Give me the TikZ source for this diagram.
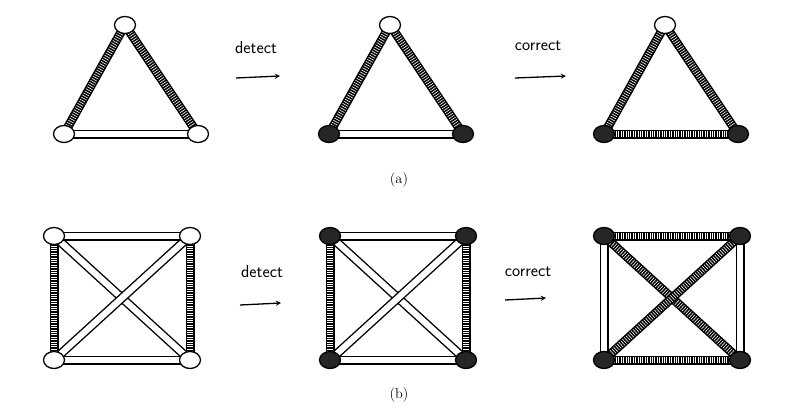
\documentclass[tikz,border=0pt]{standalone}
\usetikzlibrary{shapes.geometric}
\newcommand\plainedge[2]{\draw[line width=9pt] (#1)--(#2); \draw[line width=6.2pt,white] (#1)--(#2);}
\newcommand\hatchedge[2]{\draw[line width=9pt] (#1)--(#2); \draw[line width=6.2pt,white,dash pattern=on 0.6pt off 1.8pt] (#1)--(#2);}
\tikzset{wv/.style={ellipse,draw,line width=1.3pt,fill=white,minimum width=21pt,minimum height=17pt,inner sep=0pt},
bv/.style={wv,fill=black!85},
lbl/.style={font=\sffamily\LARGE},
arr/.style={-stealth,line width=1.3pt}}
\begin{document}
\begin{tikzpicture}[x=1pt,y=-1pt]
\useasboundingbox (0,0) rectangle (800,410);
\foreach \n/\x in {a/0,b/265,c/540}{
 \coordinate (\n t) at (125+\x,25);
 \coordinate (\n l) at (64+\x,134);
 \coordinate (\n r) at (198+\x,134);}
\hatchedge{at}{al}\hatchedge{at}{ar}\plainedge{al}{ar}
\hatchedge{bt}{bl}\hatchedge{bt}{br}\plainedge{bl}{br}
\hatchedge{ct}{cl}\hatchedge{ct}{cr}\hatchedge{cl}{cr}
\node[wv] (v1) at (at){};\node[wv] (v2) at (al){};\node[wv] (v3) at (ar){};
\node[wv] (v4) at (bt){};\node[bv] (v5) at (bl){};\node[bv] (v6) at (br){};
\node[wv] (v7) at (ct){};\node[bv] (v8) at (cl){};\node[bv] (v9) at (cr){};
\node[lbl] (d1) at (256,48){detect};
\coordinate (d1a) at (236,78);\coordinate (d1b) at (280,76);
\draw[arr] (d1a)--(d1b);
\node[lbl] (c1) at (538,46){correct};
\coordinate (c1a) at (515,78);\coordinate (c1b) at (566,76);
\draw[arr] (c1a)--(c1b);
\node[font=\Large] (la) at (399,180){(a)};
\foreach \n/\x in {p/0,q/276,s/550}{
 \coordinate (\n1) at (54+\x,236);
 \coordinate (\n2) at (190+\x,236);
 \coordinate (\n3) at (54+\x,360);
 \coordinate (\n4) at (190+\x,360);}
\foreach \n in {p,q}{
 \plainedge{\n1}{\n4}\plainedge{\n2}{\n3}\plainedge{\n1}{\n2}\plainedge{\n3}{\n4}
 \hatchedge{\n1}{\n3}\hatchedge{\n2}{\n4}}
\plainedge{s1}{s3}\plainedge{s2}{s4}
\hatchedge{s1}{s4}\hatchedge{s2}{s3}\hatchedge{s1}{s2}\hatchedge{s3}{s4}
\node[wv] (u1) at (p1){};\node[wv] (u2) at (p2){};\node[wv] (u3) at (p3){};\node[wv] (u4) at (p4){};
\node[bv] (u5) at (q1){};\node[bv] (u6) at (q2){};\node[bv] (u7) at (q3){};\node[bv] (u8) at (q4){};
\node[bv] (u9) at (s1){};\node[bv] (u10) at (s2){};\node[bv] (u11) at (s3){};\node[bv] (u12) at (s4){};
\node[lbl] (d2) at (262,272){detect};
\coordinate (d2a) at (240,305);\coordinate (d2b) at (281,303);
\draw[arr] (d2a)--(d2b);
\node[lbl] (c2) at (528,272){correct};
\coordinate (c2a) at (505,300);\coordinate (c2b) at (546,298);
\draw[arr] (c2a)--(c2b);
\node[font=\Large] (lb) at (399,395){(b)};
\end{tikzpicture}
\end{document}
